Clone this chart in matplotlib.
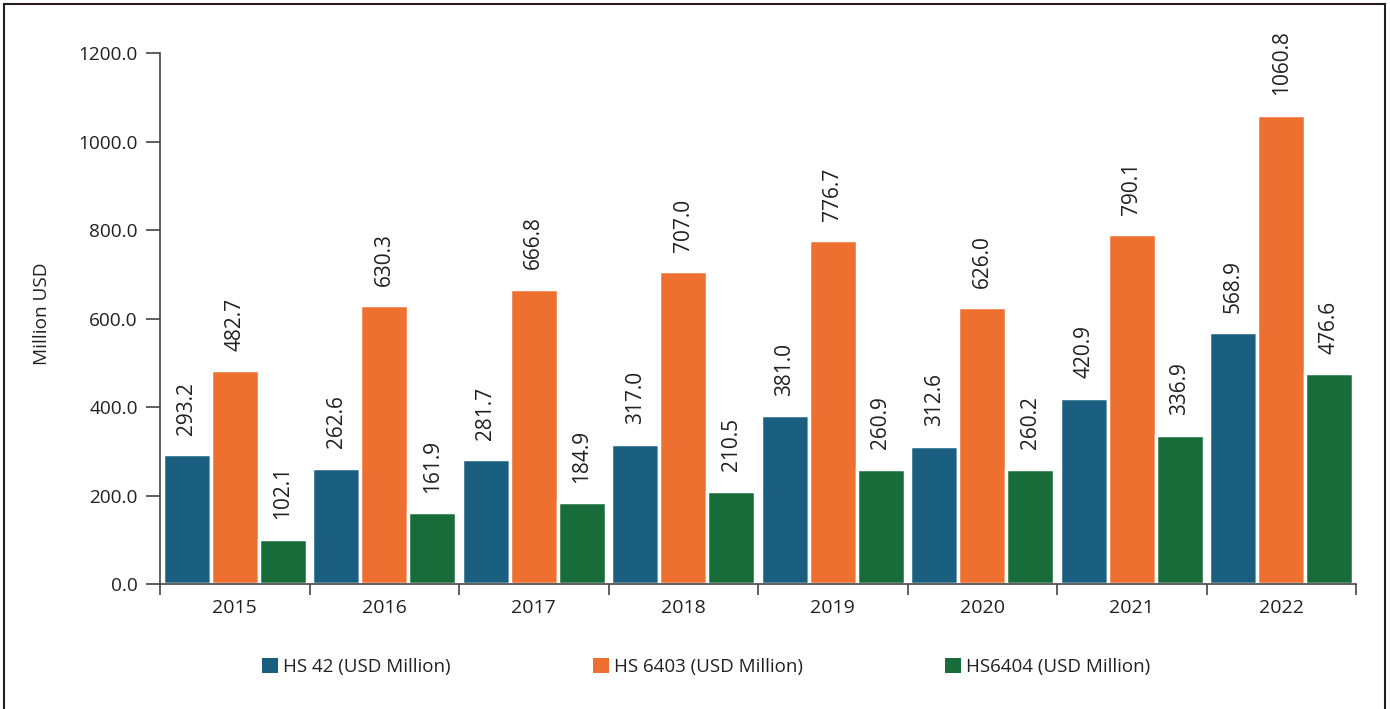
import numpy as np
import matplotlib.pyplot as plt
from matplotlib.patches import Rectangle

plt.rcParams['font.family'] = ['Open Sans', 'DejaVu Sans']

# export values by year, million USD
years = ['2015', '2016', '2017', '2018', '2019', '2020', '2021', '2022']
hs42 = [293.2, 262.6, 281.7, 317.0, 381.0, 312.6, 420.9, 568.9]
hs6403 = [482.7, 630.3, 666.8, 707.0, 776.7, 626.0, 790.1, 1060.8]
hs6404 = [102.1, 161.9, 184.9, 210.5, 260.9, 260.2, 336.9, 476.6]

series = [hs42, hs6403, hs6404]
labels = ['HS 42 (USD Million)', 'HS 6403 (USD Million)', 'HS6404 (USD Million)']
colors = ['#1a5f80', '#ed7031', '#176c39']

fig = plt.figure(figsize=(13.9, 7.09), dpi=100)
ax = fig.add_axes([160 / 1390, 1 - 584 / 709, 1196 / 1390, 531 / 709])

x = np.arange(len(years))
width = 0.32
text_col = '#231f20'
for i, (vals, lab, col) in enumerate(zip(series, labels, colors)):
    pos = x + (i - 1) * width
    ax.bar(pos, vals, width, color=col, edgecolor='white', linewidth=2.5, label=lab)
    for px, v in zip(pos, vals):
        ax.annotate(f'{v:.1f}', (px, v), xytext=(0, 14), textcoords='offset points',
                    rotation=90, ha='center', va='bottom', fontsize=15,
                    color=text_col, clip_on=False)

ax.set_xlim(-0.5, len(years) - 0.5)
ax.set_ylim(0, 1200)
ax.set_yticks(np.arange(0, 1201, 200))
ax.set_yticklabels([f'{t:.1f}' for t in np.arange(0, 1201, 200)])
ax.set_xticks(x)
ax.set_xticklabels(years)
ax.set_xticks(np.arange(-0.5, len(years)), minor=True)
ax.tick_params(axis='x', which='major', length=0, pad=11, labelsize=14, colors=text_col)
ax.tick_params(axis='x', which='minor', length=8, width=1.2, color='#444444', direction='out')
ax.tick_params(axis='y', length=10, width=1.2, color='#444444', pad=6, labelsize=13.7,
               labelcolor=text_col)

for s in ['top', 'right']:
    ax.spines[s].set_visible(False)
for s in ['left', 'bottom']:
    ax.spines[s].set_color('#444444')
    ax.spines[s].set_linewidth(1.2)

fig.text(42 / 1390, 1 - 314 / 709, 'Million USD', rotation=90, ha='center', va='center',
         fontsize=13.7, color=text_col)

leg = fig.legend(loc='center', bbox_to_anchor=(706 / 1390, 1 - 667 / 709), ncol=3,
                 frameon=False, fontsize=13.5, handlelength=0.85, handleheight=0.9,
                 handletextpad=0.25, columnspacing=7.6)
for t in leg.get_texts():
    t.set_color(text_col)
for h in leg.legend_handles:
    h.set_linewidth(0)

# outer frame
fig.patches.append(Rectangle((4 / 1390, -0.01), 1381 / 1390, 1 - 4 / 709 + 0.01,
                             transform=fig.transFigure, fill=False,
                             edgecolor='#231f20', linewidth=1.5))

fig.savefig('out.png', dpi=100)
